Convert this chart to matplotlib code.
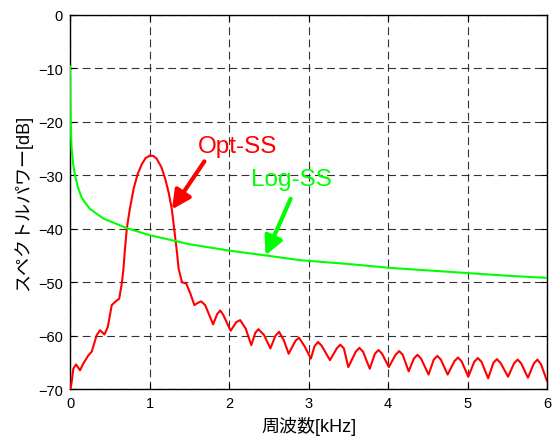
import matplotlib
matplotlib.use("Agg")
import matplotlib.pyplot as plt

plt.rcParams['font.family'] = ['Liberation Sans', 'Noto Sans CJK JP', 'DejaVu Sans']

# Opt-SS spectrum (red)
freq_opt = [0.0, 0.013, 0.042, 0.076, 0.126, 0.168, 0.231, 0.273, 0.336, 0.378,
            0.433, 0.475, 0.525, 0.567, 0.618, 0.651, 0.672, 0.69, 0.714, 0.75,
            0.80, 0.85, 0.904, 0.95, 1.005, 1.05, 1.09, 1.15, 1.198, 1.24,
            1.28, 1.31, 1.345, 1.366, 1.408, 1.463, 1.513, 1.564, 1.605, 1.648,
            1.70, 1.80, 1.85, 1.89, 1.93, 2.02, 2.09, 2.14, 2.21, 2.28,
            2.33, 2.37, 2.44, 2.52, 2.585, 2.63, 2.69, 2.75, 2.835, 2.88,
            2.95, 3.03, 3.075, 3.12, 3.165, 3.27, 3.355, 3.40, 3.445, 3.50,
            3.595, 3.64, 3.685, 3.77, 3.835, 3.88, 3.925, 4.01, 4.095, 4.14,
            4.185, 4.26, 4.325, 4.37, 4.415, 4.51, 4.575, 4.62, 4.665, 4.75,
            4.835, 4.88, 4.925, 5.01, 5.085, 5.13, 5.175, 5.26, 5.325, 5.37,
            5.415, 5.51, 5.585, 5.63, 5.675, 5.76, 5.835, 5.88, 5.925, 6.0]
db_opt = [-70.0, -69.5, -66.2, -65.4, -66.5, -65.2, -63.7, -63.0, -59.9, -59.0,
          -59.8, -58.4, -54.3, -53.7, -53.1, -50.3, -47.5, -44.0, -40.0, -36.5,
          -32.5, -29.8, -27.9, -26.8, -26.3, -26.4, -26.9, -28.5, -30.7, -33.2,
          -36.3, -40.0, -44.4, -47.5, -50.0, -50.3, -52.1, -54.3, -53.9, -53.6,
          -54.3, -57.9, -56.0, -55.3, -56.2, -59.1, -57.5, -57.1, -58.7, -61.8,
          -59.5, -58.8, -59.9, -62.4, -60.0, -59.3, -60.9, -63.4, -61.0, -60.4,
          -62.0, -64.3, -62.0, -61.2, -61.9, -64.6, -62.4, -61.7, -62.4, -65.9,
          -63.0, -62.3, -63.0, -66.2, -63.4, -62.7, -63.4, -65.9, -63.6, -62.9,
          -63.6, -66.7, -64.3, -63.6, -64.3, -67.3, -64.5, -63.8, -64.5, -67.3,
          -64.8, -64.1, -64.8, -67.7, -64.9, -64.2, -64.9, -68.0, -65.1, -64.4,
          -65.1, -67.7, -65.2, -64.5, -65.2, -67.9, -65.2, -64.5, -65.4, -68.5]

# Log-SS spectrum (green)
freq_log = [0.0, 0.003, 0.007, 0.013, 0.02, 0.04, 0.063, 0.1, 0.15, 0.25, 0.42,
            0.715, 1.0, 1.5, 2.0, 2.46, 2.9, 3.5, 4.0, 4.5, 5.0, 5.5, 6.0]
db_log = [-9.6, -15.0, -19.0, -22.3, -25.0, -28.0, -30.0, -32.3, -34.3, -36.3, -38.1,
          -39.9, -41.2, -42.9, -44.1, -45.0, -45.9, -46.6, -47.3, -47.8, -48.3, -48.8, -49.2]

x_ticks = [0, 1, 2, 3, 4, 5, 6]
y_ticks = [0, -10, -20, -30, -40, -50, -60, -70]

fig = plt.figure(figsize=(5.54, 4.39), dpi=100)
ax = fig.add_axes([0.1264, 0.1116, 0.861, 0.852])

ax.plot(freq_opt, db_opt, color='#ff0000', lw=1.5, zorder=3)
ax.plot(freq_log, db_log, color='#00ff00', lw=1.5, zorder=3)

ax.set_xlim(0, 6)
ax.set_ylim(-70, 0)
ax.set_xticks(x_ticks)
ax.set_yticks(y_ticks)
ax.set_xticklabels([str(t) for t in x_ticks])
ax.set_yticklabels([str(t).replace('-', '\u2212') for t in y_ticks])
ax.tick_params(direction='in', length=4, width=0.8, labelsize=10.5, top=True, right=True, pad=5)
ax.grid(True, color='#333333', linestyle=(0, (7, 4)), linewidth=0.8)
for s in ax.spines.values():
    s.set_linewidth(1.0)
    s.set_color('black')

ax.set_xlabel('周波数[kHz]', fontsize=13, labelpad=4)
ax.set_ylabel('スペクトルパワー[dB]', fontsize=13, labelpad=4)

ax.text(2.106, -25.66, 'Opt-SS', color='#ff0000', fontsize=17.5, ha='center', va='baseline')
ax.annotate('', xy=(1.282, -36.4), xytext=(1.69, -27.4),
            arrowprops=dict(arrowstyle='-|>', lw=3, color='#ff0000', mutation_scale=28,
                            shrinkA=0, shrinkB=0))
ax.text(2.787, -31.9, 'Log-SS', color='#00ff00', fontsize=17.5, ha='center', va='baseline')
ax.annotate('', xy=(2.459, -45.0), xytext=(2.775, -34.4),
            arrowprops=dict(arrowstyle='-|>', lw=3, color='#00ff00', mutation_scale=28,
                            shrinkA=0, shrinkB=0))

fig.savefig('out.png', dpi=100)
